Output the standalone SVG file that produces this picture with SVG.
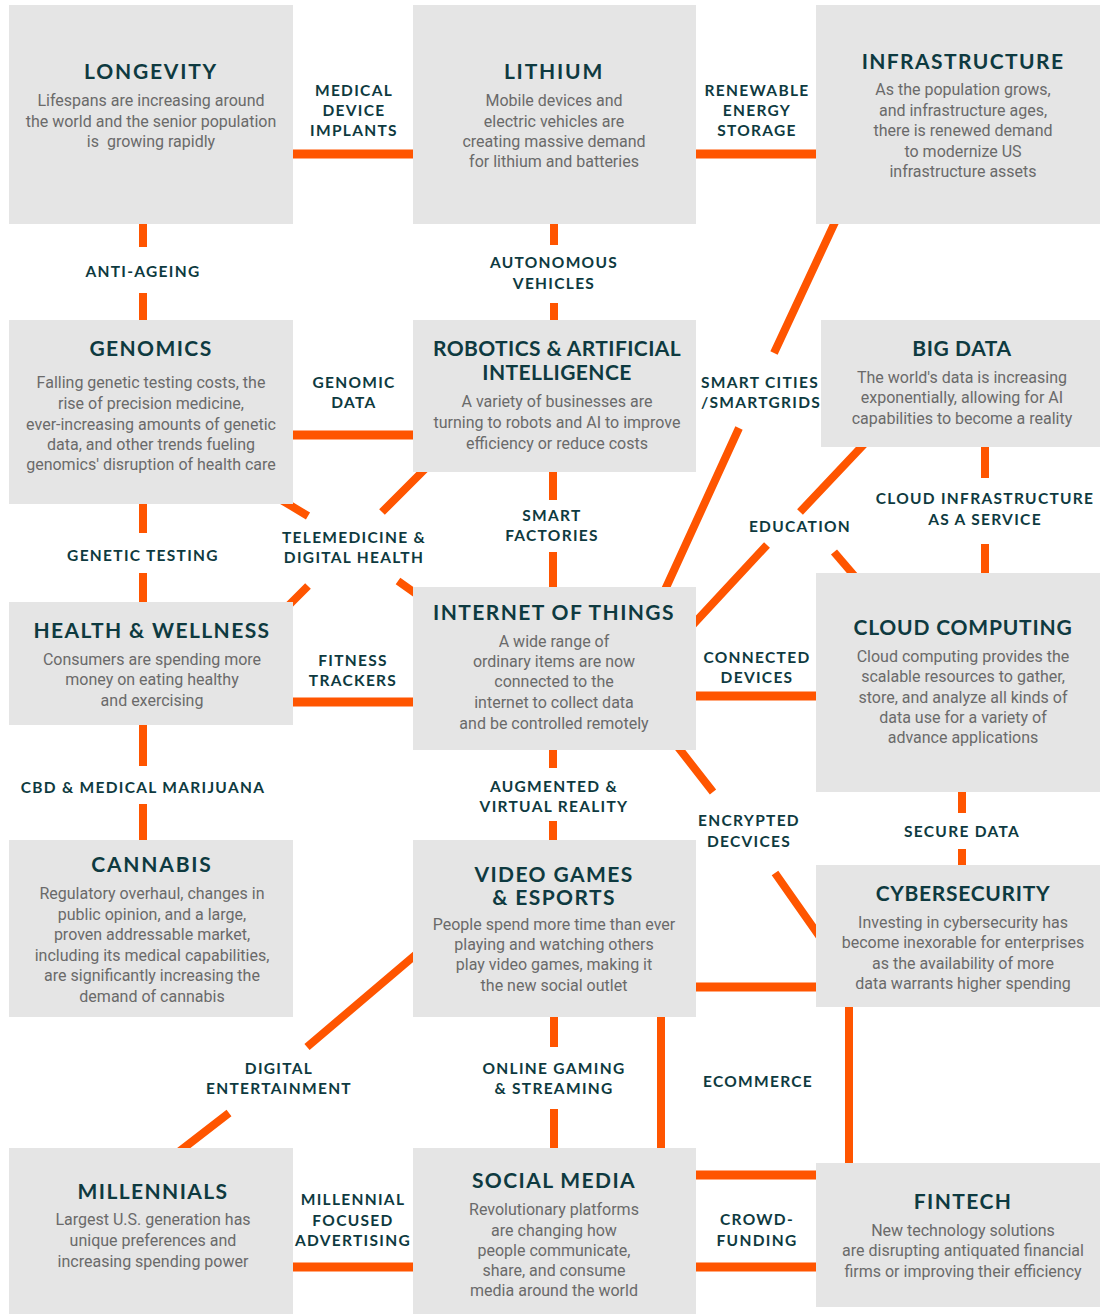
<svg xmlns="http://www.w3.org/2000/svg" width="1110" height="1314" viewBox="0 0 1110 1314">
<style>
.box{fill:#e5e5e5}
.t{font-family:Lato,"Noto Sans",sans-serif;font-weight:700;font-size:21px;letter-spacing:1.4px;fill:#0e3a40;text-anchor:middle}
.d{font-family:Roboto,"Liberation Sans",sans-serif;font-size:16px;fill:#6a6a6a;text-anchor:middle}
.l{font-family:Lato,"Noto Sans",sans-serif;font-weight:700;font-size:15.5px;letter-spacing:1.3px;fill:#0e3a40;text-anchor:middle}
.c{stroke:#ff5500;stroke-width:8;fill:none}
.h{stroke:#ff5500;stroke-width:9;fill:none}
</style>
<rect width="1110" height="1314" fill="#ffffff"/>
<g id="connectors">
<path class="h" d="M293 154H413M696 154H816M293 435H413M293 702H413M696 696H816M696 987H816M696 1175H816M293 1267H413M696 1267H816"/>
<path class="c" d="M143 224V247M143 293V320M143 504V533M143 573V602M143 725V766M143 804V840"/>
<path class="c" d="M554 224V245M554 303V320M553 471V500M553 552V587M553 750V768M553 821V840M554 1017V1047M554 1109V1148"/>
<path class="c" d="M962 792V813M962 849V865M985 447V478M985 544V573M661 1017V1148M849 1007V1163"/>
<path class="c" d="M836 220L774 353M739 428L664 592"/>
<path class="c" d="M278 498L308 516M398 581L422 598"/>
<path class="c" d="M430 464L382 512M308 586L282 612"/>
<path class="c" d="M868 440L800 512M767 545L688 630"/>
<path class="c" d="M834 552L858 580"/>
<path class="c" d="M674 742L713 792M775 873L822 940"/>
<path class="c" d="M420 951L307 1047M229 1113L176 1154"/>
</g>
<g id="label-medical"><text class="l" x="354" y="96">MEDICAL</text><text class="l" x="354" y="116">DEVICE</text><text class="l" x="354" y="136">IMPLANTS</text></g>
<g id="label-renewable"><text class="l" x="757" y="96">RENEWABLE</text><text class="l" x="757" y="116">ENERGY</text><text class="l" x="757" y="136">STORAGE</text></g>
<g id="label-anti"><text class="l" x="143" y="277">ANTI-AGEING</text></g>
<g id="label-autonomous"><text class="l" x="554" y="268">AUTONOMOUS</text><text class="l" x="554" y="289">VEHICLES</text></g>
<g id="label-smartcities"><text class="l" x="760" y="388">SMART CITIES</text><text class="l" x="761" y="408">/SMARTGRIDS</text></g>
<g id="label-genomic"><text class="l" x="354" y="388">GENOMIC</text><text class="l" x="354" y="408">DATA</text></g>
<g id="label-cloudinfra"><text class="l" x="985" y="504">CLOUD INFRASTRUCTURE</text><text class="l" x="985" y="525">AS A SERVICE</text></g>
<g id="label-education"><text class="l" x="800" y="532">EDUCATION</text></g>
<g id="label-telemedicine"><text class="l" x="354" y="543">TELEMEDICINE &amp;</text><text class="l" x="354" y="563">DIGITAL HEALTH</text></g>
<g id="label-genetic"><text class="l" x="143" y="561">GENETIC TESTING</text></g>
<g id="label-smartfactories"><text class="l" x="552" y="521">SMART</text><text class="l" x="552" y="541">FACTORIES</text></g>
<g id="label-fitness"><text class="l" x="353" y="666">FITNESS</text><text class="l" x="353" y="686">TRACKERS</text></g>
<g id="label-connected"><text class="l" x="757" y="663">CONNECTED</text><text class="l" x="757" y="683">DEVICES</text></g>
<g id="label-cbd"><text class="l" x="143" y="793">CBD &amp; MEDICAL MARIJUANA</text></g>
<g id="label-augmented"><text class="l" x="554" y="792">AUGMENTED &amp;</text><text class="l" x="554" y="812">VIRTUAL REALITY</text></g>
<g id="label-encrypted"><text class="l" x="749" y="826">ENCRYPTED</text><text class="l" x="749" y="847">DECVICES</text></g>
<g id="label-secure"><text class="l" x="962" y="837">SECURE DATA</text></g>
<g id="label-digital"><text class="l" x="279" y="1074">DIGITAL</text><text class="l" x="279" y="1094">ENTERTAINMENT</text></g>
<g id="label-online"><text class="l" x="554" y="1074">ONLINE GAMING</text><text class="l" x="554" y="1094">&amp; STREAMING</text></g>
<g id="label-ecommerce"><text class="l" x="758" y="1087">ECOMMERCE</text></g>
<g id="label-millennial"><text class="l" x="353" y="1205">MILLENNIAL</text><text class="l" x="353" y="1226">FOCUSED</text><text class="l" x="353" y="1246">ADVERTISING</text></g>
<g id="label-crowd"><text class="l" x="757" y="1225">CROWD-</text><text class="l" x="757" y="1246">FUNDING</text></g>

<g id="longevity"><rect class="box" x="9" y="5" width="284" height="219"/><text class="t" x="151" y="79" style="letter-spacing:1.8px">LONGEVITY</text><text class="d" x="151" y="106">Lifespans are increasing around</text><text class="d" x="151" y="127">the world and the senior population</text><text class="d" x="151" y="147">is&#160; growing rapidly</text></g>
<g id="lithium"><rect class="box" x="413" y="5" width="283" height="219"/><text class="t" x="554" y="79" style="letter-spacing:1.8px">LITHIUM</text><text class="d" x="554" y="106">Mobile devices and</text><text class="d" x="554" y="127">electric vehicles are</text><text class="d" x="554" y="147">creating massive demand</text><text class="d" x="554" y="167">for lithium and batteries</text></g>
<g id="infrastructure"><rect class="box" x="816" y="5" width="284" height="219"/><text class="t" x="963" y="69">INFRASTRUCTURE</text><text class="d" x="963" y="95">As the population grows,</text><text class="d" x="963" y="116">and infrastructure ages,</text><text class="d" x="963" y="136">there is renewed demand</text><text class="d" x="963" y="157">to modernize US</text><text class="d" x="963" y="177">infrastructure assets</text></g>
<g id="genomics"><rect class="box" x="9" y="320" width="284" height="184"/><text class="t" x="151" y="356">GENOMICS</text><text class="d" x="151" y="388">Falling genetic testing costs, the</text><text class="d" x="151" y="409">rise of precision medicine,</text><text class="d" x="151" y="430">ever-increasing amounts of genetic</text><text class="d" x="151" y="450">data, and other trends fueling</text><text class="d" x="151" y="470">genomics' disruption of health care</text></g>
<g id="robotics"><rect class="box" x="413" y="320" width="283" height="152"/><text class="t" x="557" y="356" style="letter-spacing:0.4px">ROBOTICS &amp; ARTIFICIAL</text><text class="t" x="557" y="380" style="letter-spacing:0.4px">INTELLIGENCE</text><text class="d" x="557" y="407">A variety of businesses are</text><text class="d" x="557" y="428">turning to robots and AI to improve</text><text class="d" x="557" y="449">efficiency or reduce costs</text></g>
<g id="bigdata"><rect class="box" x="821" y="320" width="279" height="127"/><text class="t" x="962" y="356" style="letter-spacing:0.6px">BIG DATA</text><text class="d" x="962" y="383">The world's data is increasing</text><text class="d" x="962" y="403">exponentially, allowing for AI</text><text class="d" x="962" y="424">capabilities to become a reality</text></g>
<g id="health"><rect class="box" x="9" y="602" width="284" height="123"/><text class="t" x="152" y="638">HEALTH &amp; WELLNESS</text><text class="d" x="152" y="665">Consumers are spending more</text><text class="d" x="152" y="685">money on eating healthy</text><text class="d" x="152" y="706">and exercising</text></g>
<g id="iot"><rect class="box" x="413" y="587" width="283" height="163"/><text class="t" x="554" y="620">INTERNET OF THINGS</text><text class="d" x="554" y="647">A wide range of</text><text class="d" x="554" y="667">ordinary items are now</text><text class="d" x="554" y="687">connected to the</text><text class="d" x="554" y="708">internet to collect data</text><text class="d" x="554" y="729">and be controlled remotely</text></g>
<g id="cloud"><rect class="box" x="816" y="573" width="284" height="219"/><text class="t" x="963" y="635" style="letter-spacing:0.8px">CLOUD COMPUTING</text><text class="d" x="963" y="662">Cloud computing provides the</text><text class="d" x="963" y="682">scalable resources to gather,</text><text class="d" x="963" y="703">store, and analyze all kinds of</text><text class="d" x="963" y="723">data use for a variety of</text><text class="d" x="963" y="743">advance applications</text></g>
<g id="cannabis"><rect class="box" x="9" y="840" width="284" height="177"/><text class="t" x="152" y="872" style="letter-spacing:1.8px">CANNABIS</text><text class="d" x="152" y="899">Regulatory overhaul, changes in</text><text class="d" x="152" y="920">public opinion, and a large,</text><text class="d" x="152" y="940">proven addressable market,</text><text class="d" x="152" y="961">including its medical capabilities,</text><text class="d" x="152" y="981">are significantly increasing the</text><text class="d" x="152" y="1002">demand of cannabis</text></g>
<g id="videogames"><rect class="box" x="413" y="840" width="283" height="177"/><text class="t" x="554" y="882">VIDEO GAMES</text><text class="t" x="554" y="905">&amp; ESPORTS</text><text class="d" x="554" y="930">People spend more time than ever</text><text class="d" x="554" y="950">playing and watching others</text><text class="d" x="554" y="970">play video games, making it</text><text class="d" x="554" y="991">the new social outlet</text></g>
<g id="cybersecurity"><rect class="box" x="816" y="865" width="284" height="142"/><text class="t" x="963" y="901" style="letter-spacing:0.7px">CYBERSECURITY</text><text class="d" x="963" y="928">Investing in cybersecurity has</text><text class="d" x="963" y="948">become inexorable for enterprises</text><text class="d" x="963" y="969">as the availability of more</text><text class="d" x="963" y="989">data warrants higher spending</text></g>
<g id="millennials"><rect class="box" x="9" y="1148" width="284" height="166"/><text class="t" x="153" y="1199">MILLENNIALS</text><text class="d" x="153" y="1225">Largest U.S. generation has</text><text class="d" x="153" y="1246">unique preferences and</text><text class="d" x="153" y="1267">increasing spending power</text></g>
<g id="socialmedia"><rect class="box" x="413" y="1148" width="283" height="166"/><text class="t" x="554" y="1188">SOCIAL MEDIA</text><text class="d" x="554" y="1215">Revolutionary platforms</text><text class="d" x="554" y="1236">are changing how</text><text class="d" x="554" y="1256">people communicate,</text><text class="d" x="554" y="1276">share, and consume</text><text class="d" x="554" y="1296">media around the world</text></g>
<g id="fintech"><rect class="box" x="816" y="1163" width="284" height="144"/><text class="t" x="963" y="1209">FINTECH</text><text class="d" x="963" y="1236">New technology solutions</text><text class="d" x="963" y="1256">are disrupting antiquated financial</text><text class="d" x="963" y="1277">firms or improving their efficiency</text></g>
</svg>
